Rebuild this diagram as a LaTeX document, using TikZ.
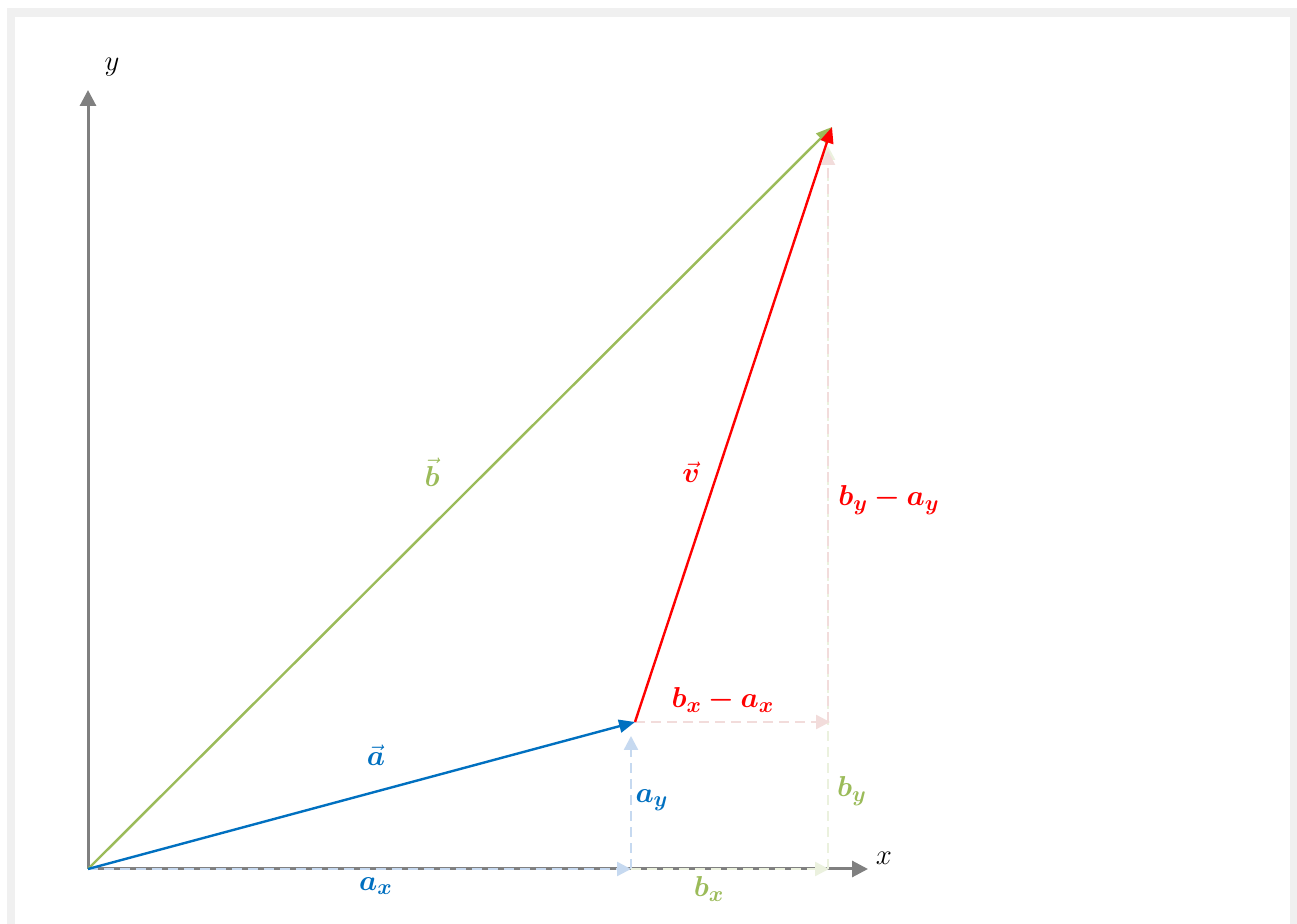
\documentclass[tikz,border=0pt]{standalone}
\usepackage{amsmath,bm}
\usepackage{xcolor}
\usetikzlibrary{arrows.meta}
\definecolor{axisgray}{RGB}{128,128,128}
\definecolor{framegray}{RGB}{240,240,240}
\definecolor{vecblue}{RGB}{0,112,192}
\definecolor{vecgreen}{RGB}{155,187,89}
\definecolor{vecred}{RGB}{255,0,0}
\definecolor{compblue}{RGB}{198,217,240}
\definecolor{compgreen}{RGB}{235,241,222}
\definecolor{comppink}{RGB}{242,220,219}
\tikzset{
  font=\fontsize{15}{18}\selectfont,
  axis/.style={-{Triangle[length=8pt,width=8pt]}, axisgray, line width=1.5pt},
  vecarrow/.style={-{Triangle[length=8pt,width=6.5pt]}, #1, line width=1.2pt},
  comparrow/.style={-{Triangle[length=7pt,width=7pt]}, #1, line width=1.2pt,
    dash pattern=on 5pt off 3pt},
  veclbl/.style={text=#1, inner sep=1pt},
}

\begin{document}
\begin{tikzpicture}[x=0.5pt,y=-0.5pt]
\useasboundingbox (0,0) rectangle (1297,924);

% ---------- frame ----------
\fill[framegray] (7,8) rectangle (1297,924);
\fill[white] (15,17) rectangle (1290,924);

% ---------- points ----------
\coordinate (o)    at (88,869);
\coordinate (xend) at (868,869);
\coordinate (yend) at (88,90);
\coordinate (a)    at (635,722);
\coordinate (b)    at (832,127);
\coordinate (ax)   at (631,869);
\coordinate (ayt)  at (631,736);
\coordinate (bx)   at (829,869);
\coordinate (bxs)  at (828,869);
\coordinate (byt)  at (828,146);
\coordinate (dxe)  at (830,722);
\coordinate (dys)  at (828,722);
\coordinate (dyt)  at (828,151);

% ---------- axes ----------
\draw[axis] (o) -- (xend);
\draw[axis] (o) -- (yend);
\node (xlbl) at (884,858) {$x$};
\node (ylbl) at (112,67) {$y$};

% ---------- components ----------
\draw[comparrow=compblue] (o) -- (ax);
\draw[comparrow=compblue] (ax) -- (ayt);
\draw[comparrow=compgreen] (ax) -- (bx);
\draw[comparrow=compgreen] (bxs) -- (byt);
\draw[comparrow=comppink] (a) -- (dxe);
\draw[comparrow=comppink] (dys) -- (dyt);

% ---------- vectors ----------
\draw[vecarrow=vecgreen] (o) -- (b);
\draw[vecarrow=vecblue] (o) -- (a);
\draw[vecarrow=vecred] (a) -- (b);

% ---------- labels ----------
\node[veclbl=vecgreen] (blbl) at (432,472) {$\vec{\bm{b}}$};
\node[veclbl=vecred]   (vlbl) at (691,472) {$\vec{\bm{v}}$};
\node[veclbl=vecblue]  (albl) at (376,755) {$\vec{\bm{a}}$};
\node[veclbl=vecblue]  (axl)  at (376,886) {$\bm{a_x}$};
\node[veclbl=vecgreen] (bxl)  at (709,889) {$\bm{b_x}$};
\node[veclbl=vecblue]  (ayl)  at (652,800) {$\bm{a_y}$};
\node[veclbl=vecgreen] (byl)  at (852,791) {$\bm{b_y}$};
\node[veclbl=vecred]   (dxl)  at (723,700) {$\bm{b_x-a_x}$};
\node[veclbl=vecred]   (dyl)  at (889,500) {$\bm{b_y-a_y}$};

\end{tikzpicture}
\end{document}
